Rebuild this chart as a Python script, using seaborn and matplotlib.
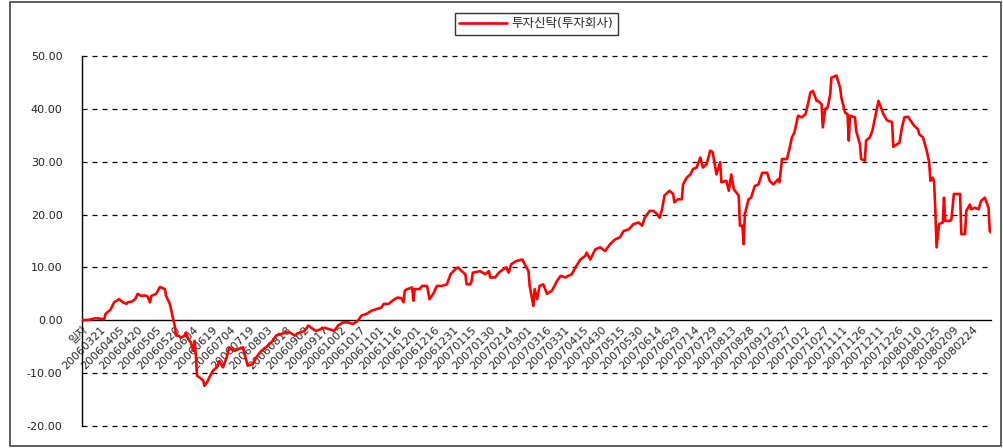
import matplotlib
matplotlib.use("Agg")
import matplotlib.pyplot as plt
import seaborn as sns
import pandas as pd
from matplotlib.patches import Rectangle

sns.set_style("white")
plt.rcParams['font.family'] = ['DejaVu Sans', 'Noto Sans CJK KR']
plt.rcParams['axes.unicode_minus'] = False

series_name = "투자신탁(투자회사)"

days = [0, 6, 11, 15, 18, 19, 23, 26, 30, 33, 36, 37, 40, 43, 45, 48, 51, 53, 55, 56,
        60, 63, 65, 67, 68, 71, 72, 74, 75, 76, 78, 80, 83, 84, 86, 88, 90, 91, 92, 93,
        95, 98, 99, 101, 103, 106, 109, 111, 114, 117, 119, 123, 126, 130, 134, 138, 141, 145, 149, 154,
        157, 161, 165, 168, 172, 175, 180, 183, 187, 189, 193, 196, 200, 204, 207, 211, 215, 219, 223, 226,
        230, 234, 238, 242, 244, 248, 251, 255, 258, 260, 261, 263, 267, 268, 269, 273, 275, 279, 281, 284,
        287, 291, 295, 298, 302, 304, 307, 310, 311, 314, 315, 316, 322, 326, 329, 330, 334, 337, 341, 343,
        345, 347, 351, 356, 358, 361, 362, 365, 366, 368, 370, 373, 376, 380, 384, 387, 391, 393, 396, 399,
        403, 407, 408, 411, 415, 419, 423, 427, 431, 435, 438, 442, 446, 450, 453, 455, 459, 462, 465, 467,
        469, 471, 475, 478, 479, 482, 485, 486, 489, 492, 494, 497, 500, 502, 505, 508, 510, 513, 516, 517,
        521, 523, 525, 527, 529, 531, 532, 534, 535, 536, 539, 541, 544, 547, 550, 554, 556, 559, 563, 564,
        566, 570, 572, 574, 576, 579, 582, 585, 587, 589, 591, 594, 595, 598, 599, 601, 603, 605, 606, 610,
        613, 614, 617, 619, 620, 621, 625, 626, 629, 630, 633, 634, 637, 639, 641, 644, 645, 648, 651, 655,
        656, 659, 661, 663, 665, 668, 671, 673, 676, 677, 680, 683, 685, 686, 688, 689, 690, 691, 693, 696,
        697, 698, 702, 703, 705, 710, 711, 714, 715, 718, 719, 722, 725, 727, 730, 733, 734, 735]

values = [0.0, 0.1, 0.4, 0.3, 0.2, 1.2, 2.0, 3.4, 4.0, 3.4, 3.1, 3.4, 3.5, 4.0, 5.0, 4.6, 4.7, 4.5, 3.4, 4.6,
          5.0, 6.3, 6.1, 5.9, 4.6, 3.1, 2.1, -0.1, -1.0, -2.9, -2.9, -3.3, -2.9, -2.3, -3.6, -4.2, -5.8, -3.9, -6.4, -10.5,
          -10.8, -11.4, -12.4, -11.8, -10.8, -9.5, -8.9, -7.7, -8.9, -7.0, -5.1, -5.8, -5.5, -5.1, -8.6, -8.3, -7.0, -5.8, -5.1, -3.9,
          -2.9, -2.6, -2.3, -2.3, -2.9, -2.4, -2.0, -1.0, -1.7, -2.0, -1.7, -1.4, -1.7, -2.0, -1.0, -0.4, -0.4, -0.7, -0.1, 0.9,
          1.2, 1.8, 2.1, 2.4, 3.1, 3.1, 3.7, 4.3, 4.2, 3.4, 5.6, 5.9, 6.2, 3.7, 5.9, 5.9, 6.5, 6.5, 4.0, 5.0,
          6.5, 6.5, 6.8, 8.7, 9.7, 10.0, 9.3, 8.7, 6.8, 6.8, 7.4, 9.0, 9.3, 8.7, 9.3, 8.1, 8.1, 9.0, 9.7, 10.0,
          9.0, 10.6, 11.2, 11.5, 10.6, 9.3, 6.5, 2.7, 5.9, 4.0, 6.5, 6.8, 5.0, 5.6, 7.4, 8.4, 8.1, 8.4, 8.7, 10.0,
          11.5, 12.2, 12.8, 11.5, 13.4, 13.8, 13.1, 14.4, 15.3, 15.7, 16.9, 17.2, 18.2, 18.5, 17.9, 19.4, 20.7, 20.7, 20.1, 19.4,
          21.0, 23.6, 24.5, 23.9, 22.3, 22.9, 22.9, 25.7, 27.0, 27.6, 28.6, 28.9, 30.8, 28.9, 29.5, 32.1, 31.8, 27.6, 29.9, 26.1,
          26.4, 24.5, 27.6, 24.8, 24.2, 23.6, 17.9, 17.9, 14.4, 20.1, 22.9, 23.2, 25.4, 25.7, 27.9, 27.9, 26.4, 25.7, 26.7, 26.1,
          30.5, 30.5, 32.4, 34.6, 35.5, 38.7, 38.4, 39.0, 40.9, 43.1, 43.4, 41.5, 41.5, 40.9, 36.5, 40.0, 40.3, 42.8, 45.9, 46.3,
          44.0, 42.1, 39.3, 39.0, 34.0, 38.7, 38.4, 35.8, 33.3, 30.5, 30.2, 34.0, 34.6, 35.8, 38.0, 41.5, 40.9, 39.0, 37.8, 37.5,
          32.8, 33.3, 33.6, 36.5, 38.4, 38.5, 37.4, 36.8, 36.1, 35.2, 34.6, 32.1, 29.9, 26.4, 27.0, 26.1, 20.7, 13.8, 18.2, 18.5,
          23.2, 18.8, 18.8, 19.1, 23.9, 23.9, 16.3, 16.3, 20.7, 21.9, 21.0, 21.3, 21.0, 22.6, 23.2, 21.3, 16.9, 16.6]

tick_labels = ["일자",
               "20060321", "20060405", "20060420", "20060505", "20060520", "20060604", "20060619",
               "20060704", "20060719", "20060803", "20060818", "20060902", "20060917", "20061002",
               "20061017", "20061101", "20061116", "20061201", "20061216", "20061231", "20070115",
               "20070130", "20070214", "20070301", "20070316", "20070331", "20070415", "20070430",
               "20070515", "20070530", "20070614", "20070629", "20070714", "20070729", "20070813",
               "20070828", "20070912", "20070927", "20071012", "20071027", "20071111", "20071126",
               "20071211", "20071226", "20080110", "20080125", "20080209", "20080224"]
tick_step_days = 15
y_ticks = [-20, -10, 0, 10, 20, 30, 40, 50]

df = pd.DataFrame({"day": days, "value": values})

fig = plt.figure(figsize=(10.04, 4.48), dpi=100)
ax = fig.add_axes([82/1004, 1 - 426/448, (991-82)/1004, (426-56)/448])

sns.lineplot(data=df, x="day", y="value", ax=ax, color="#ff0000", linewidth=1.9,
             estimator=None, sort=False, label=series_name, legend=False, zorder=3)

# spines first (setting spine position resets tick properties)
for s in ["top", "right"]:
    ax.spines[s].set_visible(False)
ax.spines["left"].set_color("black")
ax.spines["left"].set_linewidth(1.0)
ax.spines["bottom"].set_position(("data", 0))
ax.spines["bottom"].set_color("black")
ax.spines["bottom"].set_linewidth(1.0)
ax.set_facecolor("white")

ax.set_xlim(0, 49 * tick_step_days)
ax.set_ylim(-20, 50)
ax.set_xlabel("")
ax.set_ylabel("")

# horizontal dashed grid
for yv in y_ticks:
    if yv != 0:
        ax.axhline(yv, color="black", linewidth=0.9, linestyle=(0, (4, 4)),
                   zorder=0, clip_on=False)

ax.set_yticks(y_ticks)
ax.set_yticklabels([f"{v:.2f}" for v in y_ticks], fontsize=8, color="#222222")
ax.tick_params(axis="y", length=3, width=0.8, direction="in", pad=14)

ax.set_xticks([i * tick_step_days for i in range(len(tick_labels))])
ax.set_xticklabels(tick_labels, rotation=45, ha="right", va="top",
                   rotation_mode="anchor", fontsize=8)
ax.tick_params(axis="x", length=0, pad=3)

handles, labels = ax.get_legend_handles_labels()
leg = fig.legend(handles, labels, loc="upper center", bbox_to_anchor=(0.534, 0.985),
                 frameon=True, fancybox=False, edgecolor="black", fontsize=9,
                 handlelength=3.8, borderpad=0.35, handletextpad=0.4)
leg.get_frame().set_linewidth(1.0)

# outer chart border
fig.patches.append(Rectangle((10/1004, 2/448), (1001-10)/1004, (446-2)/448,
                             transform=fig.transFigure, fill=False,
                             edgecolor="#444444", linewidth=1.2))

fig.savefig("out.png", dpi=100)
